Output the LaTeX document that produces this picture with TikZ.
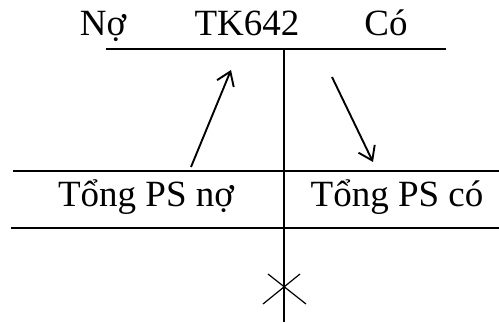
\documentclass[tikz,border=0pt]{standalone}
\usepackage{fontspec}
\setmainfont{Liberation Serif}
\usetikzlibrary{arrows.meta}

\begin{document}
\begin{tikzpicture}[x=1pt,y=1pt]
		\tikzset{tline/.style={line width=1.9pt}}
		\tikzset{flow/.style={line width=1.9pt,-{Straight Barb[length=13pt,width=18pt,line width=1.9pt]}}}
		\tikzset{tlabel/.style={anchor=base,inner sep=0pt,font=\fontsize{37}{41}\selectfont}}
		
		\useasboundingbox (0,0) rectangle (499,322);
		
		% account header
		\node[tlabel] (no) at (103,286) {Nợ};
		\node[tlabel] (acc) at (247,286) {TK642};
		\node[tlabel] (co) at (386,286) {Có};
		
		\coordinate (topL) at (106,273);
		\coordinate (topR) at (446,273);
		\coordinate (axisT) at (284,273);
		\coordinate (axisB) at (284,0);
		
		\draw[tline] (topL) -- (topR);
		\draw[tline] (axisT) -- (axisB);
		
		% totals row
		\coordinate (midL) at (13,151);
		\coordinate (midR) at (499,151);
		\coordinate (lowL) at (11,94);
		\coordinate (lowR) at (499,94);
		
		\draw[tline] (midL) -- (midR);
		\draw[tline] (lowL) -- (lowR);
		
		\node[tlabel] (psno) at (146,115) {Tổng PS nợ};
		\node[tlabel] (psco) at (397,115) {Tổng PS có};
		
		% arrows between header and totals
		\coordinate (upA) at (191,155);
		\coordinate (upB) at (231,252);
		\coordinate (dnA) at (332,245);
		\coordinate (dnB) at (373,160);
		
		\draw[flow] (upA) -- (upB);
		\draw[flow] (dnA) -- (dnB);
		
		% cross on the axis
		\coordinate (xa) at (268,48);
		\coordinate (xb) at (306,18);
		\coordinate (xc) at (300,48);
		\coordinate (xd) at (263,18);
		
		\draw[line width=1.2pt] (xa) -- (xb);
		\draw[line width=1.2pt] (xc) -- (xd);
		
\end{tikzpicture}
\end{document}
